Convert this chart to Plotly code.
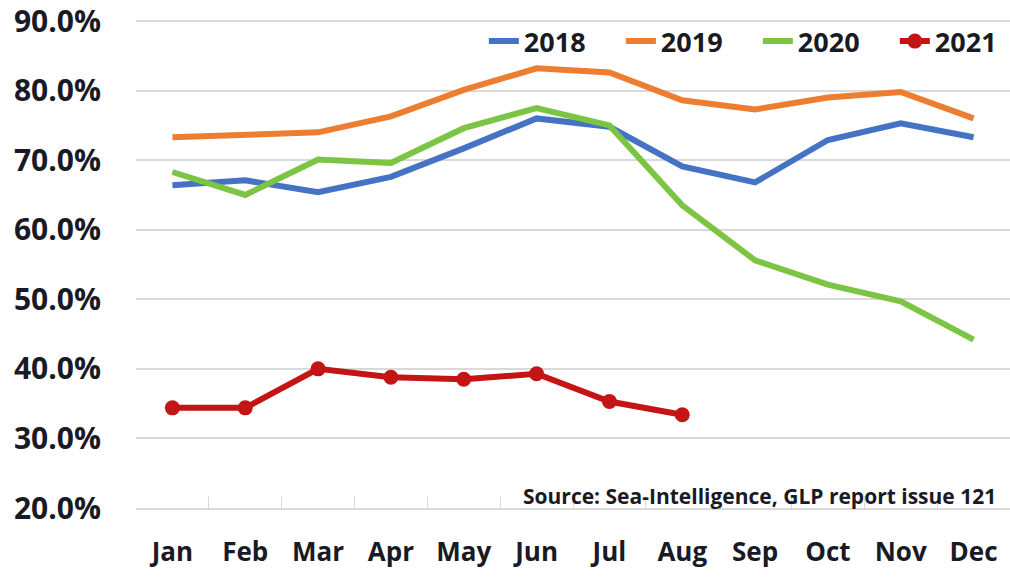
import plotly.graph_objects as go

months = ["Jan", "Feb", "Mar", "Apr", "May", "Jun", "Jul", "Aug", "Sep", "Oct", "Nov", "Dec"]
y2018 = [66.4, 67.1, 65.4, 67.6, 71.7, 76.0, 74.8, 69.1, 66.8, 72.9, 75.3, 73.3]
y2019 = [73.3, 73.6, 74.0, 76.3, 80.1, 83.2, 82.6, 78.6, 77.3, 79.0, 79.8, 76.0]
y2020 = [68.3, 65.0, 70.1, 69.6, 74.6, 77.5, 75.0, 63.5, 55.6, 52.1, 49.7, 44.2]
y2021 = [34.4, 34.4, 40.0, 38.8, 38.5, 39.3, 35.3, 33.4]
ytick_vals = [20, 30, 40, 50, 60, 70, 80, 90]
ytick_text = ["20.0%", "30.0%", "40.0%", "50.0%", "60.0%", "70.0%", "80.0%", "90.0%"]
source_text = "Source: Sea-Intelligence, GLP report issue 121"

FONT = "Open Sans, Liberation Sans, Arial"
TXT = "#1a1a24"

fig = go.Figure()
fig.add_trace(go.Scatter(x=months, y=y2018, name="2018", mode="lines",
                         line=dict(color="#4472C4", width=6)))
fig.add_trace(go.Scatter(x=months, y=y2019, name="2019", mode="lines",
                         line=dict(color="#ED7D31", width=6)))
fig.add_trace(go.Scatter(x=months, y=y2020, name="2020", mode="lines",
                         line=dict(color="#7CC443", width=6)))
fig.add_trace(go.Scatter(x=months[:len(y2021)], y=y2021, name="2021", mode="lines+markers",
                         line=dict(color="#C41414", width=6),
                         marker=dict(color="#C41414", size=15)))

fig.update_layout(
    width=1010, height=578,
    margin=dict(l=136, r=0, t=20, b=70, autoexpand=False),
    paper_bgcolor="white", plot_bgcolor="white",
    font=dict(family=FONT, color=TXT),
    legend=dict(orientation="h", x=1.025, xanchor="right",
                y=1.006, yanchor="top",
                font=dict(size=27, family=FONT, color=TXT, weight="bold"),
                bgcolor="rgba(255,255,255,0)", tracegroupgap=0,
                entrywidth=92, entrywidthmode="pixels"),
    showlegend=True,
)
fig.update_xaxes(
    type="category", categoryorder="array", categoryarray=months,
    range=[-0.5, 11.5], automargin=False,
    showgrid=False, showline=True, linecolor="#d9d9d9", linewidth=1.5,
    ticks="inside", tickson="boundaries", ticklen=12, tickcolor="#d9d9d9",
    tickfont=dict(size=26, family=FONT, color=TXT, weight="bold"),
    ticklabelstandoff=20,
)
fig.update_yaxes(
    range=[20, 90.15], tickvals=ytick_vals, ticktext=ytick_text, automargin=False,
    showgrid=True, gridcolor="#d9d9d9", gridwidth=1.5,
    zeroline=False, showline=False,
    tickfont=dict(size=30, family=FONT, color=TXT, weight="bold"),
    ticklabelstandoff=34, ticklabeloverflow="allow",
)
fig.add_annotation(text=source_text, xref="paper", yref="paper", x=0.986, y=-0.008,
                   xanchor="right", yanchor="bottom", showarrow=False,
                   font=dict(size=21, family=FONT, color=TXT, weight="bold"))

fig.write_html("out.html", config={"displayModeBar": False},
               post_script="document.body.style.margin='0';document.body.style.overflow='hidden';")
